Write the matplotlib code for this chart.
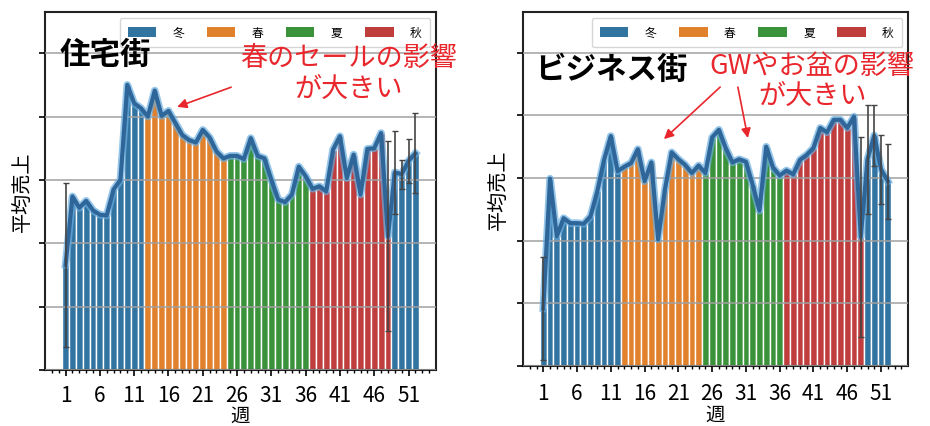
import matplotlib
matplotlib.use("Agg")
import matplotlib.pyplot as plt
from matplotlib.patches import Patch
import numpy as np

plt.rcParams['font.family'] = ['Noto Sans CJK JP', 'DejaVu Sans']

weeks = list(range(1, 53))
season_names = ['冬', '春', '夏', '秋']
season_colors = ['#3274a1', '#e1812c', '#3a923a', '#c03d3e']
# season index for each week: 冬 1-12, 春 13-24, 夏 25-36, 秋 37-48, 冬 49-52
week_season = [0] * 12 + [1] * 12 + [2] * 12 + [3] * 12 + [0] * 4

residential = [1.66, 2.74, 2.56, 2.67, 2.52, 2.45, 2.44, 2.85, 3.00, 4.50,
               4.21, 4.13, 4.00, 4.41, 4.01, 4.09, 3.90, 3.71, 3.63, 3.59,
               3.79, 3.67, 3.45, 3.34, 3.38, 3.38, 3.33, 3.66, 3.38, 3.34,
               3.00, 2.69, 2.65, 2.77, 3.21, 3.06, 2.86, 2.90, 2.82, 3.48,
               3.69, 3.03, 3.40, 2.77, 3.49, 3.50, 3.74, 2.11, 3.12, 3.09,
               3.30, 3.42]
residential_err = [1.29] + [0] * 46 + [1.50, 0.65, 0.23, 0.35, 0.63]

business = [0.92, 2.99, 2.07, 2.36, 2.28, 2.28, 2.27, 2.39, 2.79, 3.29,
            3.67, 3.11, 3.18, 3.24, 3.46, 2.95, 3.25, 2.02, 2.81, 3.41,
            3.30, 3.21, 3.08, 3.20, 3.08, 3.65, 3.77, 3.48, 3.25, 3.30,
            3.26, 2.89, 2.48, 3.50, 3.17, 3.04, 3.12, 3.06, 3.29, 3.37,
            3.48, 3.80, 3.73, 3.93, 3.93, 3.80, 3.98, 2.06, 3.30, 3.68,
            3.14, 2.95]
business_err = [0.82] + [0] * 46 + [1.60, 0.87, 0.49, 0.55, 0.60]

xticks_major = [1, 6, 11, 16, 21, 26, 31, 36, 41, 46, 51]

fig = plt.figure(figsize=(9.3, 4.27), dpi=100)
ax1 = fig.add_axes([0.0484, 0.1311, 0.4204, 0.8384])
ax2 = fig.add_axes([0.5624, 0.1405, 0.4140, 0.8290])

red = '#e8262c'


def draw(ax, vals, errs, title, title_xy, note, note_xy, arrows, tpad, lpad):
    cols = [season_colors[s] for s in week_season]
    ax.bar(weeks, vals, width=1.0, color=cols, edgecolor='white',
           linewidth=1.0, zorder=2)
    ex = [w for w, e in zip(weeks, errs) if e > 0]
    ey = [v for v, e in zip(vals, errs) if e > 0]
    ee = [e for e in errs if e > 0]
    ax.errorbar(ex, ey, yerr=ee, fmt='none', ecolor='#444444',
                elinewidth=1.2, capsize=2, capthick=1, zorder=5)
    ax.plot(weeks, vals, color='#6aaee0', lw=5.5, alpha=0.7, zorder=3,
            solid_joinstyle='round')
    ax.plot(weeks, vals, color='#2f6699', lw=3.0, zorder=4,
            solid_joinstyle='round')
    ax.set_xlim(-2, 55)
    ax.set_ylim(0, 5.65)
    ax.set_yticks([0, 1, 2, 3, 4, 5])
    ax.set_yticklabels([])
    ax.set_xticks(xticks_major)
    ax.set_xticklabels([str(t) for t in xticks_major], fontsize=15)
    ax.set_xticks(range(-1, 55), minor=True)
    ax.tick_params(axis='both', which='major', direction='out', length=4.5,
                   width=1.2, pad=tpad)
    ax.tick_params(axis='x', which='minor', direction='out', length=2.5,
                   width=1.0)
    ax.grid(axis='y', color='#a0a0a0', lw=1.1, zorder=2.5)
    ax.set_axisbelow(False)
    for sp in ax.spines.values():
        sp.set_linewidth(1.5)
        sp.set_color('#222222')
    ax.set_xlabel('週', fontsize=14, labelpad=lpad)
    ax.set_ylabel('平均売上', fontsize=14.5, labelpad=-1)
    handles = [Patch(facecolor=c, edgecolor='none') for c in season_colors]
    ax.legend(handles, season_names, loc='upper right', ncol=4, fontsize=8.5,
              handlelength=2.4, handleheight=0.85, handletextpad=1.4,
              columnspacing=1.9, borderaxespad=0.5, borderpad=0.7)
    ax.text(title_xy[0], title_xy[1], title, transform=ax.transAxes,
            fontsize=22, fontweight='bold', ha='left', va='center', zorder=10)
    ax.text(note_xy[0], note_xy[1], note, transform=ax.transAxes,
            fontsize=19.5, color=red, ha='center', va='center',
            multialignment='center', linespacing=1.15, zorder=10)
    for (sx, sy), (tx, ty) in arrows:
        ax.annotate('', xy=(tx, ty), xytext=(sx, sy), xycoords='axes fraction',
                    textcoords='axes fraction',
                    arrowprops=dict(arrowstyle='-|>', color=red, lw=1.2,
                                    mutation_scale=14, shrinkA=0, shrinkB=0),
                    zorder=10)


draw(ax1, residential, residential_err, '住宅街', (0.036, 0.883),
     '春のセールの影響\nが大きい', (0.777, 0.830),
     [((0.476, 0.790), (0.338, 0.735))], tpad=5.5, lpad=-1)
draw(ax2, business, business_err, 'ビジネス街', (0.031, 0.839),
     'GWやお盆の影響\nが大きい', (0.751, 0.806),
     [((0.512, 0.788), (0.366, 0.641)), ((0.558, 0.788), (0.584, 0.644))],
     tpad=7, lpad=0)

fig.savefig('out.png', dpi=100)
